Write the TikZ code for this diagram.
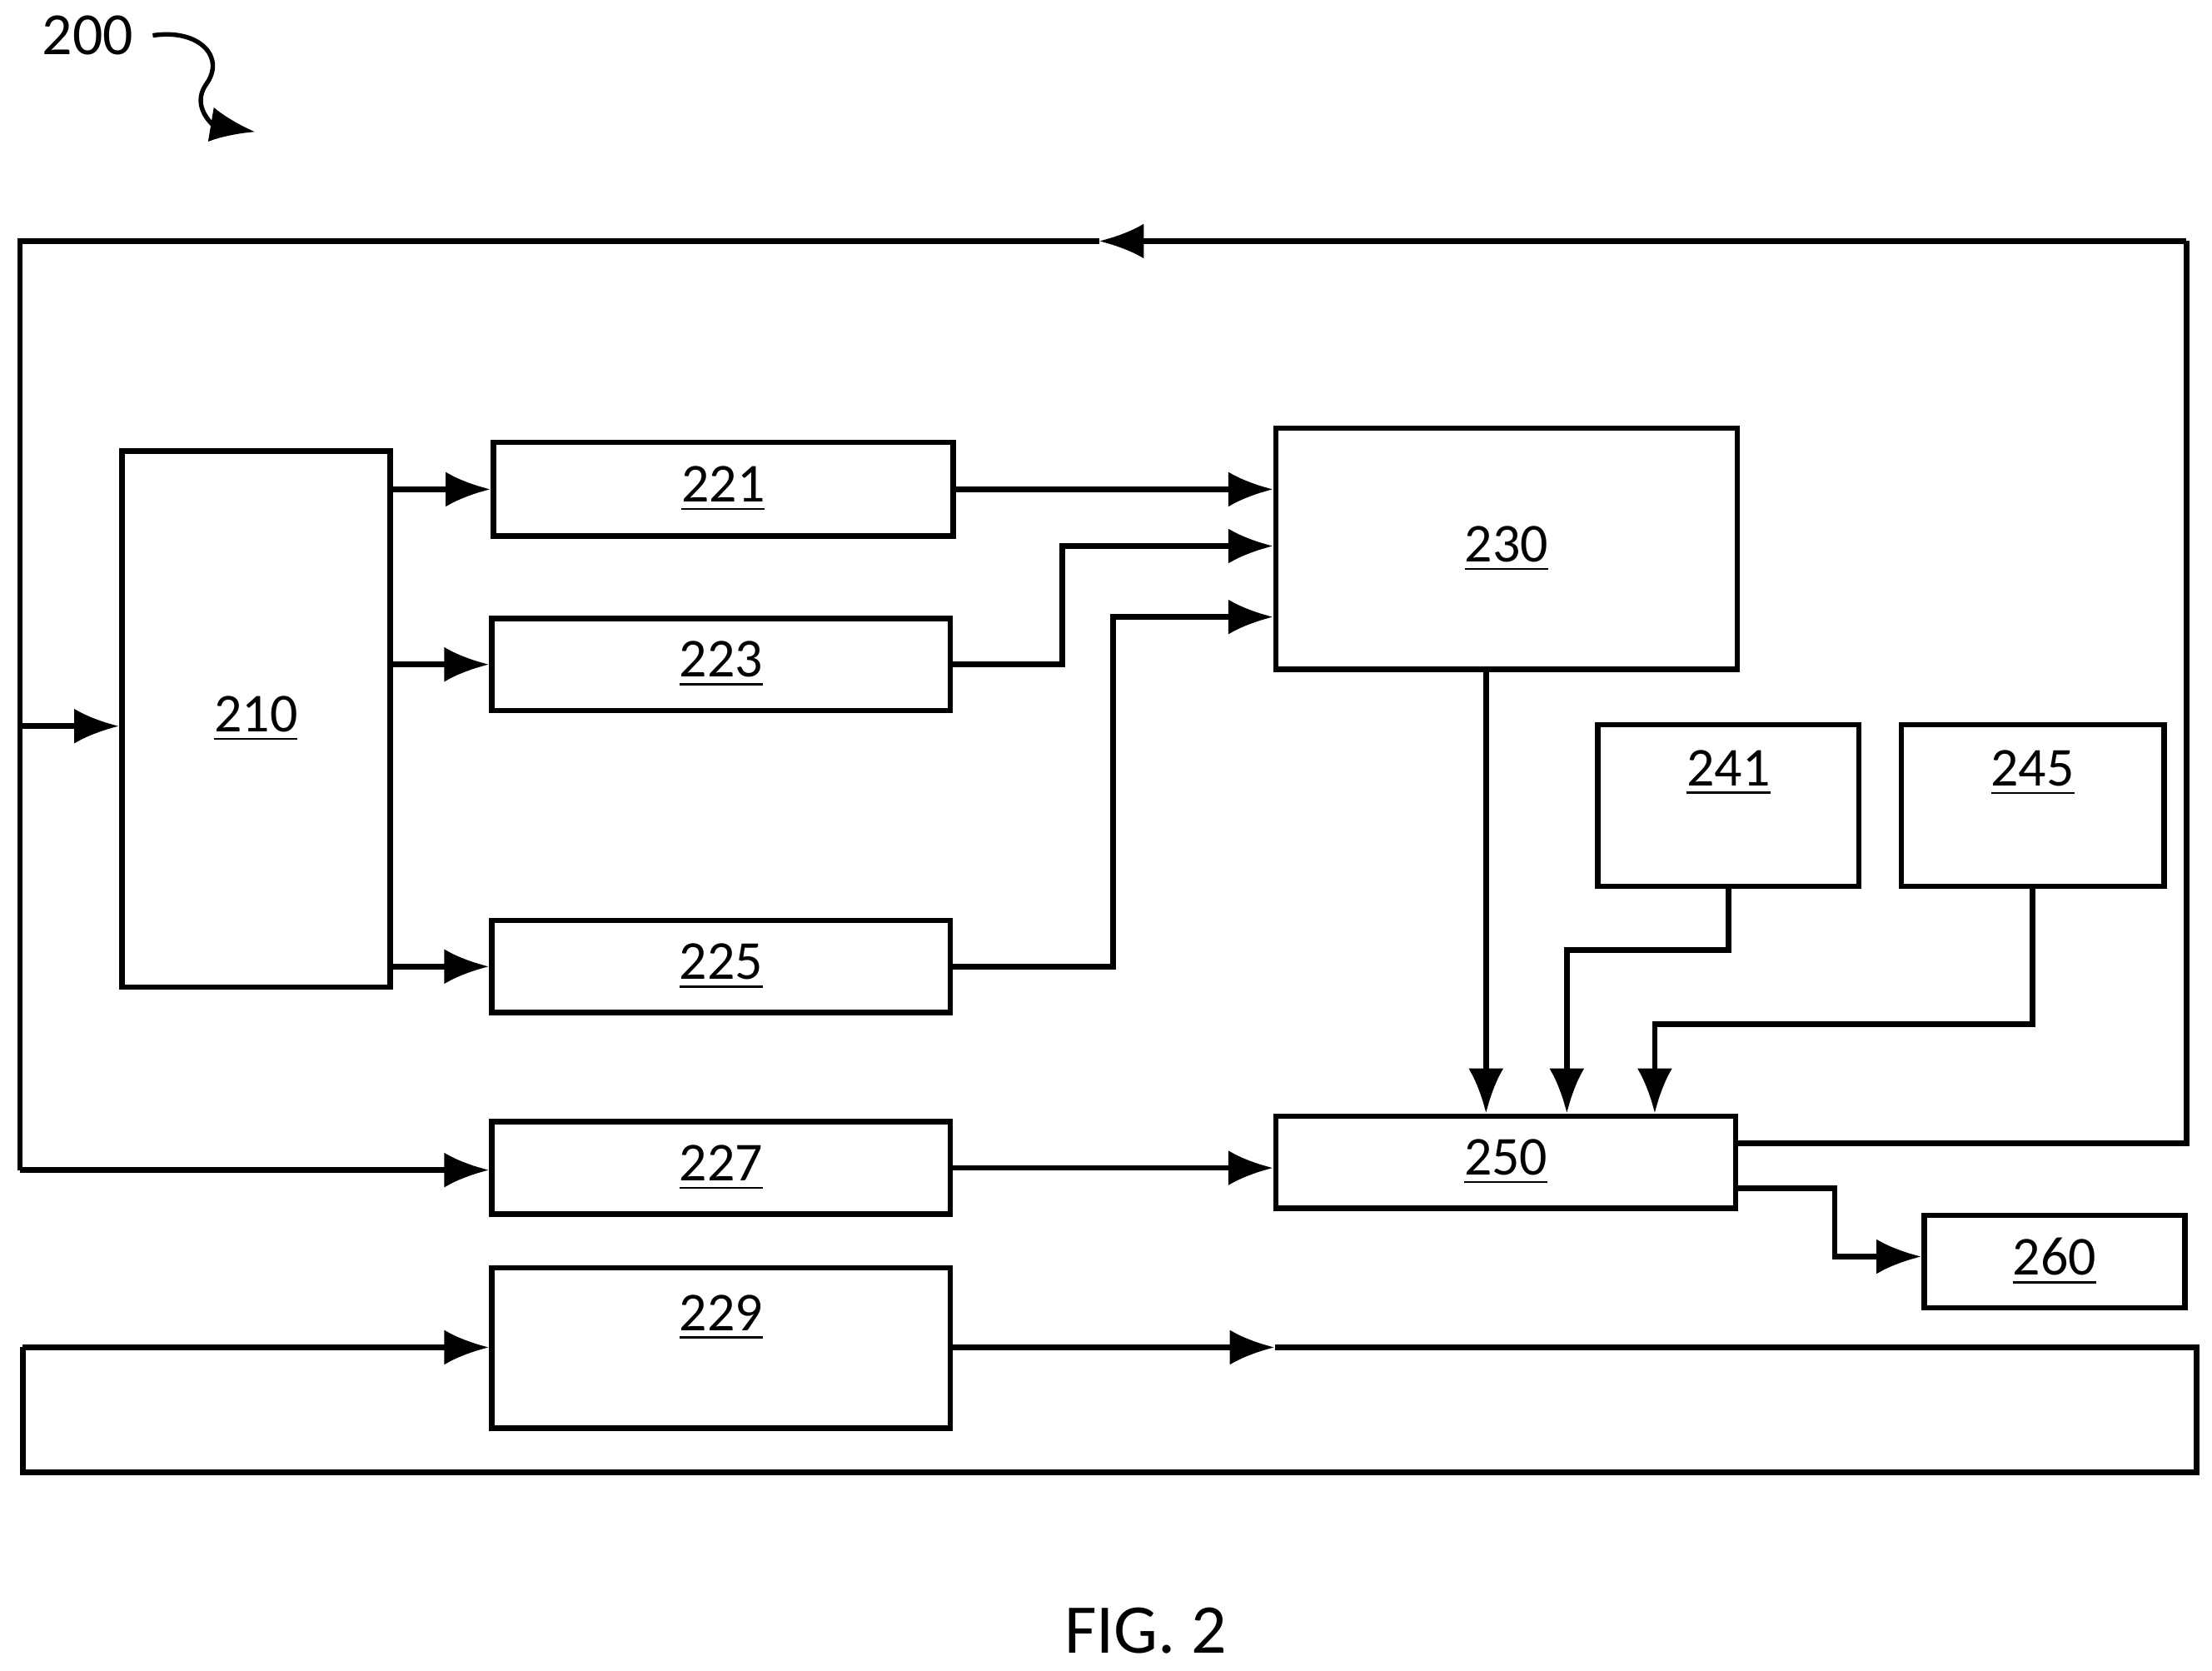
\documentclass[tikz,border=0pt]{standalone}
\usepackage{fontspec}
\setmainfont{Carlito}
\usetikzlibrary{arrows.meta}
\begin{document}
\begin{tikzpicture}[x=0.01cm,y=-0.01cm,line width=1.1pt,
    blk/.style={draw,rectangle,inner sep=0pt,font=\fontsize{11}{11}\selectfont},
    arr/.style={-{Latex[length=9pt,width=7pt]}}]
    \useasboundingbox (0,0) rectangle (1560,1178);

    % blocks
    \node[blk,minimum width=1.89cm,minimum height=3.78cm] (b210) at (180.5,507) {\underline{210}};
    \node[blk,minimum width=3.24cm,minimum height=0.66cm] (b221) at (510,345) {\underline{221}};
    \node[blk,minimum width=3.23cm,minimum height=0.65cm] (b223) at (508.5,468.5) {\underline{223}};
    \node[blk,minimum width=3.23cm,minimum height=0.65cm] (b225) at (508.5,681.5) {\underline{225}};
    \node[blk,minimum width=3.23cm,minimum height=0.65cm] (b227) at (508.5,823.5) {\underline{227}};
    \node[blk,minimum width=3.23cm,minimum height=1.13cm] (b229) at (508.5,950.5) {};
    \node[font=\fontsize{11}{11}\selectfont] at (508.5,929) {\underline{229}};
    \node[blk,minimum width=3.25cm,minimum height=1.70cm] (b230) at (1062.5,387) {\underline{230}};
    \node[blk,minimum width=1.84cm,minimum height=1.14cm] (b241) at (1219,568) {};
    \node[font=\fontsize{11}{11}\selectfont] at (1219,545) {\underline{241}};
    \node[blk,minimum width=1.85cm,minimum height=1.14cm] (b245) at (1433.5,568) {};
    \node[font=\fontsize{11}{11}\selectfont] at (1433.5,545) {\underline{245}};
    \node[blk,minimum width=3.24cm,minimum height=0.65cm] (b250) at (1062,819.5) {\underline{250}};
    \node[blk,minimum width=1.84cm,minimum height=0.65cm] (b260) at (1449,889.5) {\underline{260}};

    % 210 to the 22x blocks
    \draw[arr] (b210.east |- b221) -- (b221.west);
    \draw[arr] (b210.east |- b223) -- (b223.west);
    \draw[arr] (b210.east |- b225) -- (b225.west);

    % into 230
    \draw[arr] (b221.east) -- (b221.east -| b230.west);
    \draw[arr] (b223.east) -| (749,385) -- (b230.west |- 0,385);
    \draw[arr] (b225.east) -| (785,435) -- (b230.west |- 0,435);

    % into 250
    \draw[arr] (b230.south -| 1048,0) -- (b250.north -| 1048,0);
    \draw[arr] (b241.south) |- (1105,670) -- (b250.north -| 1105,0);
    \draw[arr] (b245.south) |- (1167,722) -- (b250.north -| 1167,0);
    \draw[arr] (b227.east) -- (b250.west |- b227);
    \draw[arr] (b250.east |- 0,838) -| (1294,886) -- (b260.west |- 0,886);

    % feedback loop
    \coordinate (fbR) at (1542,806);
    \coordinate (fbT) at (775,170);
    \coordinate (fbL) at (14,170);
    \draw (b250.east |- fbR) -- (fbR) -- (1542,170);
    \draw[arr] (1542,170) -- (fbT);
    \draw (fbT) -- (fbL) -- (14,825);
    \draw[arr] (14,512) -- (b210.west |- 0,512);
    \draw[arr] (14,825) -- (b227.west |- 0,825);

    % 229 loop
    \coordinate (lpA) at (16,950);
    \coordinate (lpB) at (899,950);
    \draw[arr] (lpA) -- (b229.west |- lpA);
    \draw[arr] (b229.east |- lpB) -- (lpB);
    \draw (lpB) -- (1549,950) -- (1549,1038) -- (16,1038) -- (lpA);

    % reference numeral
    \node[font=\fontsize{12}{12}\selectfont] (n200) at (62,25) {200};
    \coordinate (n200e) at (180,93);
    \draw[arr,line width=0.9pt] (n200.east) .. controls (140,20) and (160,40) .. (145,60) .. controls (135,75) and (150,88) .. (n200e);

    \node[font=\fontsize{14}{14}\selectfont] (fig) at (808,1150) {FIG. 2};
\end{tikzpicture}
\end{document}
